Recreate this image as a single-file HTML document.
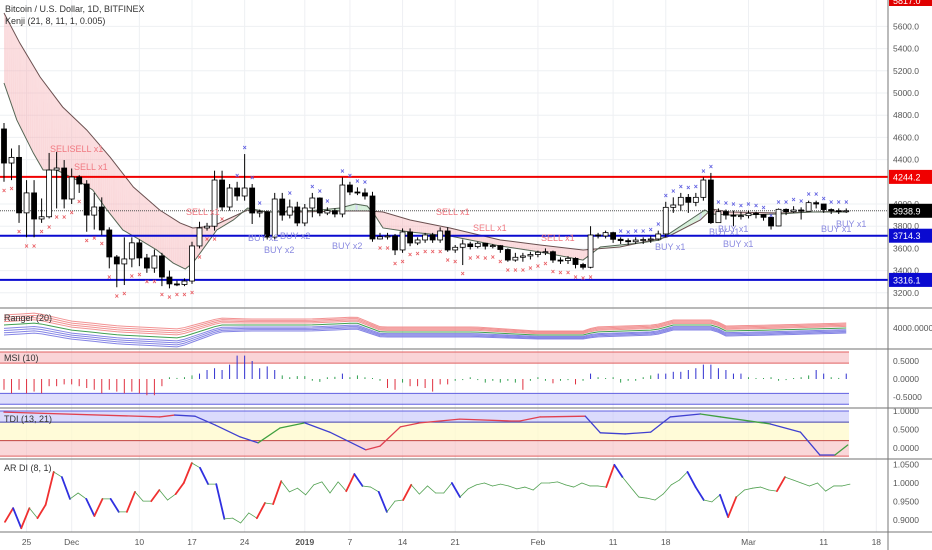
<!DOCTYPE html>
<html><head><meta charset="utf-8">
<style>
html,body{margin:0;padding:0;background:#fff;}
svg{display:block;font-family:"Liberation Sans",sans-serif;}
.ax{font-size:8.5px;fill:#555;}
</style></head>
<body>
<svg id="chart" width="932" height="550" viewBox="0 0 932 550" xmlns="http://www.w3.org/2000/svg">
<rect x="0" y="0" width="932" height="550" fill="#fff"/>
<g id="grid"></g>
<g id="main"></g>
<g id="ranger"></g>
<g id="msi"></g>
<g id="tdi"></g>
<g id="ar"></g>
<g id="axes"></g>
<text x="5" y="12" font-size="9" fill="#333">Bitcoin / U.S. Dollar, 1D, BITFINEX</text>
<text x="5" y="24" font-size="9" fill="#333">Kenji (21, 8, 11, 1, 0.005)</text>
</svg>
<script>
// ---------- DATA ----------
const closes=[4369,4420,3920,4100,3865,3885,4306,4324,4045,4243,4180,3900,3973,3766,3523,3460,3505,3650,3514,3423,3532,3342,3280,3275,3306,3622,3784,3800,4216,3973,4144,4072,4144,3919,3930,3702,4045,3900,3973,3829,3964,4054,3919,3940,3910,4171,4108,4100,4072,3685,3705,3712,3586,3748,3649,3676,3721,3676,3757,3586,3610,3640,3616,3646,3620,3625,3590,3495,3520,3532,3545,3565,3570,3495,3490,3510,3455,3430,3721,3712,3742,3682,3670,3660,3675,3680,3685,3730,3970,3991,4060,4015,4060,4216,3832,3931,3900,3890,3895,3916,3905,3880,3802,3952,3931,3946,3935,4012,4000,3950,3940,3935,3939];
const firstOpen=4676;
const highs=[4730,4500,4530,4215,4215,4050,4460,4470,4396,4320,4260,4215,4100,4060,3790,3540,3700,3700,3680,3550,3590,3560,3400,3310,3330,3660,3840,3830,4300,4300,4180,4200,4450,4180,3950,3940,4100,4100,4040,4020,4000,4100,4060,3970,3960,4240,4200,4150,4140,4110,3740,3740,3730,3780,3780,3700,3740,3740,3790,3790,3630,3680,3660,3660,3650,3640,3630,3600,3560,3560,3570,3580,3600,3580,3520,3530,3520,3470,3800,3740,3760,3750,3700,3690,3700,3700,3710,3760,4020,4060,4100,4090,4100,4240,4280,3960,3950,3940,3930,3940,3930,3910,3840,3960,3960,3980,3970,4030,4030,3990,3960,3960,3960];
const lows=[4200,4215,3830,3700,3700,3830,3870,3960,3960,4000,4100,3750,3770,3720,3420,3250,3270,3430,3440,3380,3380,3260,3240,3260,3260,3280,3600,3760,3760,3940,3940,4030,4030,3820,3880,3680,3680,3850,3870,3800,3800,3880,3890,3900,3880,3880,4080,4080,4040,3660,3680,3680,3540,3560,3620,3630,3650,3650,3650,3570,3560,3450,3590,3600,3590,3600,3560,3480,3480,3480,3500,3520,3540,3470,3460,3460,3420,3410,3420,3690,3690,3650,3640,3630,3640,3640,3650,3670,3700,3920,3940,3920,3980,4030,3820,3830,3860,3800,3860,3870,3870,3850,3770,3800,3900,3920,3860,3940,3960,3920,3910,3910,3920];
const slowIdx=[0,2.1,4.8,7.8,11,14.1,17.2,20.7,23.4,25.1,27.8,30.1,32.4,35,39.4,44.7,48.3,50.4,54,59.3,66,71.3,77,81.9,88.2,92.6,94.1,96.5,103.2,112.2];
const slowVal=[5721,5450,5144,4874,4667,4423,4153,3946,3829,3784,3802,3874,3946,3928,3928,3937,3937,3928,3856,3784,3676,3631,3586,3613,3703,3856,3955,3928,3919,3937];
const fastIdx=[0,1.7,3.9,5.2,7,9.7,11.8,13.7,15.8,18.1,20.3,22.5,24.1,25.1,26.1,28.3,30.5,32.4,35,39.4,42,44.7,46.7,48.3,49.3,50.4,54,59.3,66,71.3,77,79.3,84.6,87.2,91.2,93.2,94.1,96.5,103.2,107.2,112.2];
const fastVal=[5090,4757,4459,4306,4306,4216,4126,3946,3766,3676,3586,3468,3414,3468,3559,3766,3856,3964,3928,3937,3946,3964,4000,3982,3901,3784,3748,3712,3622,3568,3495,3613,3649,3676,3856,3946,3910,3901,3910,3928,3928];
const redMarks=[0,1,2,3,4,5,6,7,8,9,10,11,12,13,14,15,16,17,18,19,20,21,22,23,24,25,26,27,28,29,50,51,52,53,54,55,56,57,58,59,60,61,62,63,64,65,66,67,68,69,70,71,72,73,74,75,76,77,78];
const blueMarks=[31,32,33,34,38,41,42,43,45,46,47,48,82,83,84,85,86,87,88,89,90,91,92,93,94,95,96,97,98,99,100,101,102,103,104,105,106,107,108,109,110,111,112];
const priceTicks=[5600,5400,5200,5000,4800,4600,4400,4000,3800,3600,3400,3200];
const levels=[4244.2,3714.3,3316.1];
const lastPrice=3938.9;
const dateLabels=["25","Dec","10","17","24","2019","7","14","21","Feb","11","18","Mar","11","18"];
const dateIdx=[3,9,18,25,32,40,46,53,60,71,81,88,99,109,116];
const rangerIdx=[0,4.3,8.9,15.3,23.3,28.7,32.7,40.7,46.9,50.1,62.8,70.8,77.0,78.6,86.6,89.0,94.4,96.0,102.4,112.2];
const rangerVal=[4027,4045,3982,3937,3910,4027,4027,4027,4045,3964,3964,3937,3937,3964,3982,4027,4027,3973,3982,4000];
const rangerWidth=[10,10,9,9,9,7,6,6,6,5,5,4,4,5,5,5,5,5,5,5];
const msiVals=[-0.3,-0.4,-0.3,-0.4,-0.35,-0.4,-0.2,-0.2,-0.15,-0.15,-0.2,-0.25,-0.3,-0.4,-0.3,-0.35,-0.4,-0.35,-0.4,-0.45,-0.45,-0.2,0.02,0.03,0.05,0.1,0.15,0.25,0.3,0.25,0.4,0.65,0.65,0.5,0.3,0.35,0.25,0.1,0.05,0.08,0.08,-0.02,-0.08,0.02,0.06,0.15,0.05,0.1,0.02,0,-0.05,-0.25,-0.3,-0.1,-0.2,-0.2,-0.25,-0.35,-0.15,-0.15,-0.05,-0.03,0.02,-0.03,-0.1,-0.05,-0.1,-0.05,-0.1,-0.3,-0.05,0.05,-0.05,-0.12,-0.05,-0.03,-0.15,-0.05,0.15,0.05,0,0.05,-0.1,-0.05,-0.05,0.05,0.1,0.15,0.15,0.2,0.2,0.25,0.3,0.4,0.4,0.3,0.25,0.15,0.15,0.05,0,0,0.05,-0.02,-0.03,0,0.05,0.1,0.25,0.15,0.05,0.03,0.15];
const tdiIdx=[0,20.7,22.7,25.4,28.1,31.4,33.8,36.7,40.0,43.3,48.1,50.0,52.7,55.3,60.6,67.3,68.6,71.3,77.3,79.3,82.6,86.0,88.6,92.6,95.3,101.9,105.9,108.5,110.5,112.2];
const tdiVals=[0.97,0.84,0.89,0.86,0.62,0.30,0.14,0.54,0.68,0.43,-0.05,0.05,0.57,0.68,0.78,0.73,0.73,0.84,0.86,0.41,0.38,0.43,0.84,0.92,0.84,0.65,0.43,-0.19,-0.19,0.08];
const tdiColors=["#e04050","#e04050","#4040d0","#4040d0","#4040d0","#4040d0","#40a040","#40a040","#4040d0","#4040d0","#e04050","#e04050","#e04050","#e04050","#e04050","#e04050","#e04050","#e04050","#4040d0","#4040d0","#4040d0","#4040d0","#4040d0","#40a040","#40a040","#4040d0","#4040d0","#4040d0","#40a040"];
const arVals=[0.895,0.932,0.878,0.932,0.905,0.941,1.030,1.016,0.957,0.973,0.957,0.911,0.957,0.957,0.922,0.922,0.976,0.951,0.951,0.981,0.954,0.970,1.0,1.054,1.041,0.997,0.997,0.903,0.905,0.892,0.919,0.905,0.946,0.943,1.005,0.976,0.986,0.968,0.995,1.003,0.973,1.003,0.978,1.024,0.992,0.989,0.976,0.922,0.951,0.954,0.995,0.970,0.992,0.973,0.973,1.0,0.962,0.984,0.995,1.0,0.992,0.997,0.992,0.984,0.989,0.981,1.0,1.0,1.003,0.995,0.989,1.0,0.992,0.992,0.989,1.049,1.016,0.989,0.962,0.959,0.954,0.970,0.995,1.008,1.030,0.989,0.954,0.949,0.968,0.908,0.962,0.981,0.986,0.989,0.981,0.978,1.016,1.008,1.0,0.992,1.0,0.978,0.992,0.992,0.997];

// ---------- SCALES ----------
const NS="http://www.w3.org/2000/svg";
const AXX=888;
function xOf(i){return 4+i*7.52;}
function yP(p){return 204+(4000-p)*0.111;}
function el(tag,attrs,parent){const e=document.createElementNS(NS,tag);for(const k in attrs)e.setAttribute(k,attrs[k]);parent.appendChild(e);return e;}
const grid=document.getElementById('grid'),main=document.getElementById('main'),axes=document.getElementById('axes');

// grid
dateIdx.forEach(d=>{const x=xOf(d);
 const g=el('line',{x1:x,x2:x,y1:0,y2:532,stroke:'#eef0f3','stroke-width':1},grid);
 
 });
priceTicks.forEach(p=>{const y=yP(p);
 const g=el('line',{x1:0,x2:AXX,y1:y,y2:y,stroke:'#eef0f3','stroke-width':1},grid);
 
 
 const t=el('text',{x:893,y:y+3,class:'ax'},axes);t.textContent=p.toFixed(1);
 
 });

// kenji cloud
function interp(idx,val,i){if(i<=idx[0])return val[0];for(let k=1;k<idx.length;k++){if(i<=idx[k]){const t=(i-idx[k-1])/(idx[k]-idx[k-1]);return val[k-1]+t*(val[k]-val[k-1]);}}return val[val.length-1];}
for(let s=0;s<112*4;s++){const a=s/4,b=(s+1)/4;
 const sa=interp(slowIdx,slowVal,a),sb=interp(slowIdx,slowVal,b),fa=interp(fastIdx,fastVal,a),fb=interp(fastIdx,fastVal,b);
 const col=(sa+sb)>(fa+fb)?'rgba(245,170,175,0.4)':((fa-sa)>60?'rgba(170,170,235,0.45)':'rgba(170,225,180,0.45)');
 const p=el('polygon',{points:`${xOf(a)},${yP(sa)} ${xOf(b)},${yP(sb)} ${xOf(b)+0.3},${yP(fb)} ${xOf(a)},${yP(fa)}`,fill:col},main);
 
 }
const sl=el('polyline',{points:slowIdx.map((v,k)=>xOf(v)+','+yP(slowVal[k])).join(' '),fill:'none',stroke:'#6b5050','stroke-width':1},main);


const fl=el('polyline',{points:fastIdx.map((v,k)=>xOf(v)+','+yP(fastVal[k])).join(' '),fill:'none',stroke:'#556655','stroke-width':1},main);



// level lines
const lvColors=['#f00000','#0a0ad0','#0a0ad0'];
levels.forEach((v,k)=>{const y=yP(v);
 const l=el('line',{x1:0,x2:AXX,y1:y,y2:y,stroke:lvColors[k],'stroke-width':2},main);
 
 
 const r=el('rect',{x:AXX+1,y:y-7,width:43,height:14,fill:lvColors[k]},axes);
 
 
 const t=el('text',{x:893,y:y+3.5,'font-size':9,fill:'#fff'},axes);t.textContent=v.toFixed(1);
 
 });
{const y=yP(lastPrice);
 const l=el('line',{x1:0,x2:AXX,y1:y,y2:y,stroke:'#555','stroke-width':1,'stroke-dasharray':'1,1'},main);
 
 
 const r=el('rect',{x:AXX+1,y:y-7,width:43,height:14,fill:'#000'},axes);
 
 
 const t=el('text',{x:893,y:y+3.5,'font-size':9,fill:'#fff'},axes);t.textContent=lastPrice.toFixed(1);
 
 }
{const r=el('rect',{x:AXX+1,y:-6,width:43,height:12,fill:'#e00000'},axes);
 
 
 const t=el('text',{x:893,y:4,'font-size':9,fill:'#fff'},axes);t.textContent='5817.0';
 
 }

// candles
closes.forEach((c,i)=>{const o=i===0?firstOpen:closes[i-1];const x=xOf(i);
 const w=el('line',{x1:x,x2:x,y1:yP(highs[i]),y2:yP(lows[i]),stroke:'#000','stroke-width':1},main);
 
 
 const top=yP(Math.max(o,c)),bot=yP(Math.min(o,c));
 const b=el('rect',{x:x-2.5,y:top,width:5,height:Math.max(1,bot-top),fill:c>=o?'#fff':'#000',stroke:'#000','stroke-width':0.8},main);
 
 });
redMarks.forEach(i=>{const t=el('text',{x:xOf(i),y:yP(lows[i])+11,'font-size':7,fill:'#e85a60','text-anchor':'middle','font-weight':'bold'},main);t.textContent='×';
 
 });
blueMarks.forEach(i=>{const t=el('text',{x:xOf(i),y:yP(highs[i])-4,'font-size':7,fill:'#5a5ae0','text-anchor':'middle','font-weight':'bold'},main);t.textContent='×';
 
 });
const sigs=[[50,152,'SELISELL x1','#f07880'],[74,170,'SELL x1','#f07880'],[186,215,'SELL x1','#f07880'],[248,241,'BUY x2','#8a8ae0'],[264,253,'BUY x2','#8a8ae0'],[280,239,'BUY x2','#8a8ae0'],[332,249,'BUY x2','#8a8ae0'],[436,215,'SELL x1','#f07880'],[473,231,'SELL x1','#f07880'],[541,241,'SELL x1','#f07880'],[655,250,'BUY x1','#8a8ae0'],[709,235,'BUY x1','#8a8ae0'],[718,232,'BUY x1','#8a8ae0'],[723,247,'BUY x1','#8a8ae0'],[821,232,'BUY x1','#8a8ae0'],[836,227,'BUY x1','#8a8ae0']];
sigs.forEach(s=>{const t=el('text',{x:s[0],y:s[1],'font-size':9,fill:s[3]},main);t.textContent=s[2];
 
 });

// ---------- RANGER ----------
const rg=document.getElementById('ranger');
function yR(v){return 328-(v-4000)*0.111;}
const offs=[-9,-7,-5,-3,3,5,7,9];
offs.forEach(o=>{const pts=[];for(let i=0;i<=112;i++){const v=interp(rangerIdx,rangerVal,i),w=interp(rangerIdx,rangerWidth,i);pts.push(xOf(i)+','+(yR(v)+o*w/9));}
 const l=el('polyline',{points:pts.join(' '),fill:'none',stroke:o<0?'#f08080':'#7070e0','stroke-width':1,opacity:0.85},rg);
 
 });
{const pts=[];for(let i=0;i<=112;i++)pts.push(xOf(i)+','+yR(interp(rangerIdx,rangerVal,i)));
 const l=el('polyline',{points:pts.join(' '),fill:'none',stroke:'#40a050','stroke-width':1},rg);
 
 }
{const t=el('text',{x:893,y:331,class:'ax'},axes);t.textContent='4000.0000';
 
 }

// ---------- MSI ----------
const ms=document.getElementById('msi');
function yM(v){return 379-v*36;}
[[0.75,0.44,'rgba(245,170,175,0.5)','#e06060'],[-0.4,-0.7,'rgba(190,190,250,0.5)','#6060e0']].forEach(b=>{
 const r=el('rect',{x:0,y:yM(b[0]),width:849,height:yM(b[1])-yM(b[0]),fill:b[2]},ms);
 
 
 [b[0],b[1]].forEach(v=>{const l=el('line',{x1:0,x2:849,y1:yM(v),y2:yM(v),stroke:b[3],'stroke-width':1},ms);
 
 });});
msiVals.forEach((v,i)=>{const l=el('line',{x1:xOf(i),x2:xOf(i),y1:yM(0),y2:yM(v)+(Math.abs(v)<0.03?(v<0?1:-1):0),stroke:v< -0.1?'#e03040':(v>0.1?'#3030d0':'#30a050'),'stroke-width':1},ms);
 
 });
[[0.5,'0.5000'],[0,'0.0000'],[-0.5,'-0.5000']].forEach(t0=>{const t=el('text',{x:893,y:yM(t0[0])+3,class:'ax'},axes);t.textContent=t0[1];
 
 });

// ---------- TDI ----------
const td=document.getElementById('tdi');
function yT(v){return 448-v*37;}
[[1.0,0.7,'rgba(190,190,250,0.55)'],[0.7,0.2,'rgba(255,250,200,0.7)'],[0.2,-0.22,'rgba(245,175,180,0.5)']].forEach(b=>{
 const r=el('rect',{x:0,y:yT(b[0]),width:849,height:yT(b[1])-yT(b[0]),fill:b[2]},td);
 
 });
[[1.0,'#6060e0'],[0.7,'#4040b0'],[0.2,'#c04040'],[-0.22,'#e06060']].forEach(b=>{const l=el('line',{x1:0,x2:849,y1:yT(b[0]),y2:yT(b[0]),stroke:b[1],'stroke-width':1},td);
 
 });
for(let k=1;k<tdiIdx.length;k++){const l=el('line',{x1:xOf(tdiIdx[k-1]),y1:yT(tdiVals[k-1]),x2:xOf(tdiIdx[k]),y2:yT(tdiVals[k]),stroke:tdiColors[k-1],'stroke-width':1.3,'stroke-linecap':'round'},td);
 
 }
[[1,'1.0000'],[0.5,'0.5000'],[0,'0.0000']].forEach(t0=>{const t=el('text',{x:893,y:yT(t0[0])+3,class:'ax'},axes);t.textContent=t0[1];
 
 });

// ---------- AR DI ----------
const ar=document.getElementById('ar');
function yA(v){return 483-(v-1)*370;}
function xA(k){return 5+k*(845/(arVals.length-1));}
for(let k=1;k<arVals.length;k++){const d=arVals[k]-arVals[k-1];const big=Math.abs(d)>0.03;
 const l=el('line',{x1:xA(k-1),y1:yA(arVals[k-1]),x2:xA(k),y2:yA(arVals[k]),stroke:big?(d>0?'#f03030':'#3030e0'):'#50a050','stroke-width':big?1.8:0.8,'stroke-linecap':'round'},ar);
 
 }
[[1.05,'1.0500'],[1,'1.0000'],[0.95,'0.9500'],[0.9,'0.9000']].forEach(t0=>{const t=el('text',{x:893,y:yA(t0[0])+3,class:'ax'},axes);t.textContent=t0[1];
 
 });

// ---------- FRAME ----------
[308,349,408,459].forEach(y=>{const l=el('line',{x1:0,x2:932,y1:y,y2:y,stroke:'#a0a0a0','stroke-width':1.5},axes);
 
 });
{const l=el('line',{x1:0,x2:932,y1:532,y2:532,stroke:'#777','stroke-width':1},axes);
 
 
 const v=el('line',{x1:AXX,x2:AXX,y1:0,y2:550,stroke:'#777','stroke-width':1},axes);
 
 }
dateLabels.forEach((d,k)=>{const t=el('text',{x:xOf(dateIdx[k]),y:545,class:'ax','text-anchor':'middle','font-weight':d==='2019'?'bold':'normal'},axes);t.textContent=d;
 
 });
[['Ranger (20)',321],['MSI (10)',361],['TDI (13, 21)',422],['AR DI (8, 1)',471]].forEach(p=>{const t=el('text',{x:4,y:p[1],'font-size':9,fill:'#333'},axes);t.textContent=p[0];
 
 });
</script>
</body></html>
